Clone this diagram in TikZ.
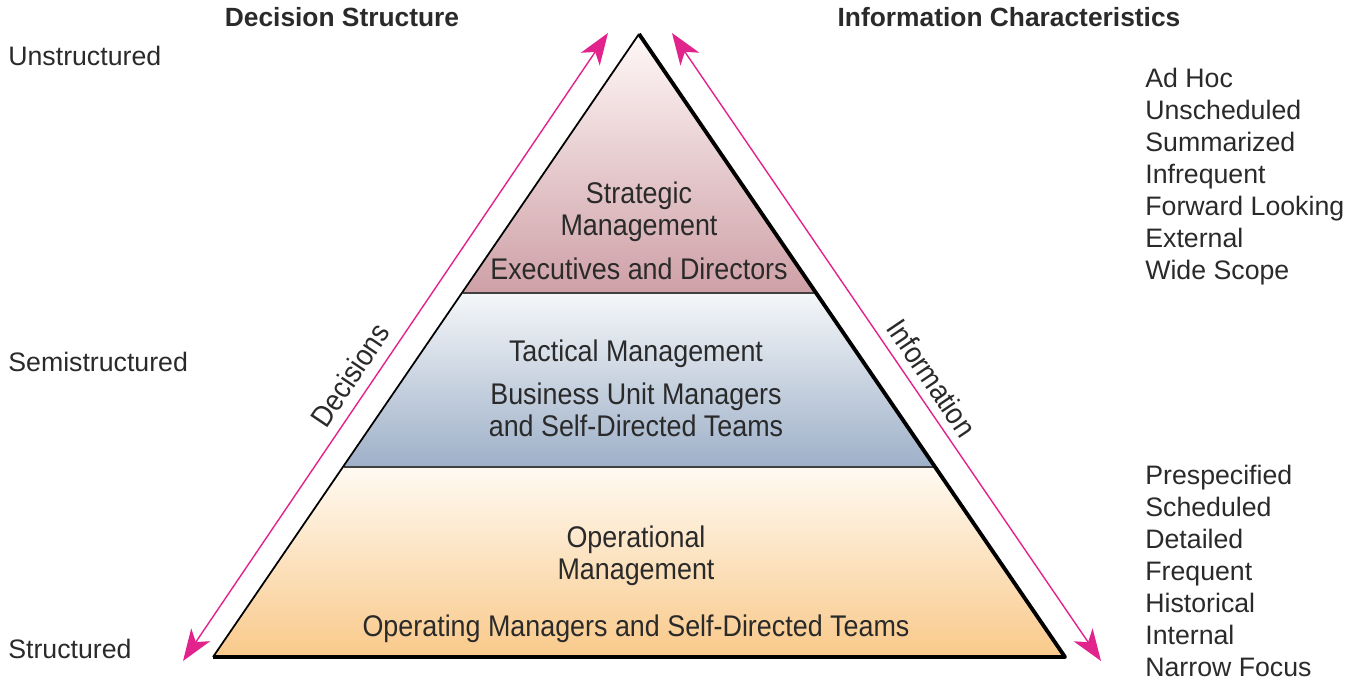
\documentclass[tikz,border=0pt]{standalone}
\usepackage{fontspec}
\setmainfont{Liberation Sans}
\newfontfamily\narrowsans[FakeStretch=0.9]{Liberation Sans}
\usetikzlibrary{arrows.meta}
\definecolor{arrowpink}{HTML}{E2238C}
\definecolor{txt}{HTML}{2A2A2A}
\begin{document}
\begin{tikzpicture}[x=0.02cm,y=-0.02cm,>={Stealth[length=18pt,width=13pt,inset=5pt]},
  side/.style={anchor=west,inner sep=0pt,text height=10.8pt,text depth=0pt,text=txt,font=\fontsize{15.2}{18}\selectfont},
  head/.style={inner sep=0pt,text height=10.8pt,text depth=0pt,text=txt,font=\bfseries\fontsize{15}{18}\selectfont},
  lay/.style={inner sep=0pt,text height=12.2pt,text depth=0pt,text=txt,font=\narrowsans\fontsize{17}{18}\selectfont},
  pk/.style={arrowpink,line width=0.8pt}]
\useasboundingbox (0,0) rectangle (1350,685);
\coordinate (apex) at (639,34);
\coordinate (bl) at (213,657);
\coordinate (br) at (1065,657);
\coordinate (sl) at (463,293);
\coordinate (sr) at (815,293);
\coordinate (tl) at (344,467);
\coordinate (tr) at (934,467);
\shade[top color=white!97!red,bottom color={rgb,255:red,206;green,160;blue,166}] (apex)--(sr)--(sl)--cycle;
\shade[top color={rgb,255:red,245;green,247;blue,249},bottom color={rgb,255:red,158;green,176;blue,200}] (sl)--(sr)--(tr)--(tl)--cycle;
\shade[top color={rgb,255:red,255;green,250;blue,242},bottom color={rgb,255:red,249;green,201;blue,138}] (tl)--(tr)--(br)--(bl)--cycle;
\draw[black!75,line width=1pt] (sl)--(sr);
\draw[black!75,line width=1pt] (tl)--(tr);
\draw[line width=1pt] (bl)--(apex);
\draw[line width=2.2pt,line join=round] (apex)--(br)--(bl);
\coordinate (decBot) at (183,661);
\coordinate (decTop) at (608,33);
\coordinate (infTop) at (672,33);
\coordinate (infBot) at (1101,661);
\draw[pk,<->] (decBot)--(decTop);
\draw[pk,<->] (infTop)--(infBot);
\node[lay,rotate=56] (dec) at (350,375) {Decisions};
\node[lay,rotate=-56] (inf) at (932,378) {Information};
\node[head] (dstruct) at (342,17) {Decision Structure};
\node[head] (ichar) at (1009,17) {Information Characteristics};
\node[side] (unstr) at (8,56) {Unstructured};
\node[side] (semi) at (8,362) {Semistructured};
\node[side] (str) at (8,649) {Structured};
\foreach \t [count=\i from 0] in {Ad Hoc,Unscheduled,Summarized,Infrequent,Forward Looking,External,Wide Scope}
  \node[side] (hi\i) at (1145,78+32*\i) {\t};
\foreach \t [count=\i from 0] in {Prespecified,Scheduled,Detailed,Frequent,Historical,Internal,Narrow Focus}
  \node[side] (lo\i) at (1145,475+32*\i) {\t};
\node[lay] (strat) at (639,193) {Strategic};
\node[lay] (stratm) at (639,225) {Management};
\node[lay] (exec) at (639,269) {Executives and Directors};
\node[lay] (tact) at (636,351) {Tactical Management};
\node[lay] (bum) at (636,394) {Business Unit Managers};
\node[lay] (sdt) at (636,426) {and Self-Directed Teams};
\node[lay] (oper) at (636,537) {Operational};
\node[lay] (operm) at (636,569) {Management};
\node[lay] (omgr) at (636,626) {Operating Managers and Self-Directed Teams};
\end{tikzpicture}
\end{document}
